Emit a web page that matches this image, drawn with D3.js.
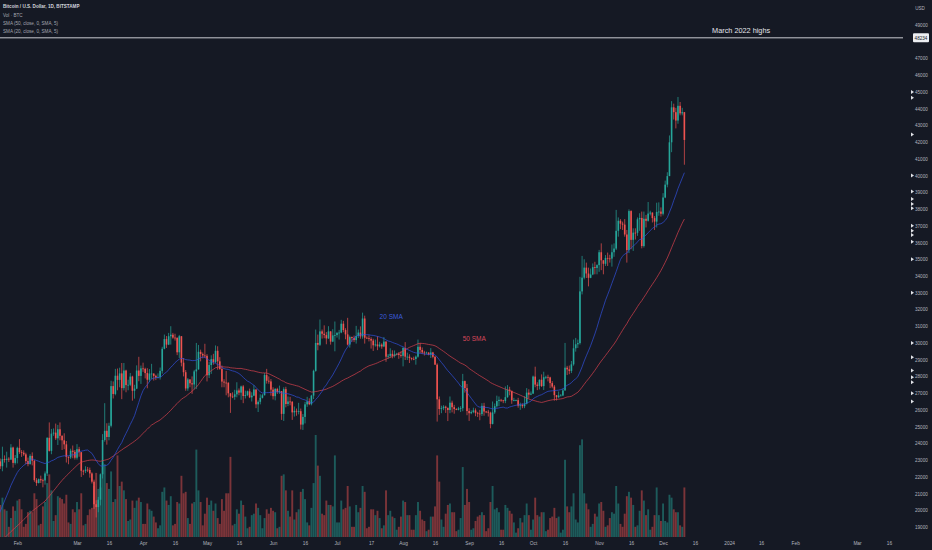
<!DOCTYPE html>
<html>
<head>
<meta charset="utf-8">
<script src="https://cdn.jsdelivr.net/npm/d3@7"></script>
<style>
    html, body { margin: 0; padding: 0; background: #151924; }
    svg { display: block; font-family: "Liberation Sans", Arial, sans-serif; }
</style>
</head>
<body>
<div class="chart"></div>
<script>

// daily closes before the first visible candle (Dec 4 2022 - Jan 22 2023), only used to warm up the SMAs
const preCloses = [
    17110, 16970, 17090, 16840, 17220, 17130, 17130, 17090, 17210, 17780,
    17810, 17360, 16630, 16780, 16740, 16440, 16900, 16820, 16830, 16780,
    16840, 16830, 16920, 16700, 16550, 16630, 16600, 16540,
    16620, 16680, 16670, 16850, 16830, 16950, 16940, 17120, 17180, 17440,
    17940, 18850, 19930, 20950, 20870, 21170, 21160, 20680, 21070, 22670,
    22780, 22710
];

// first visible candle
const firstDay = "2023-01-23";

const closes = [
    // jan
    22920, 22630, 23060, 23010, 23080, 23030, 23750, 22830, 23120,
    // feb
    23730, 23480, 23440, 23340, 22940, 22760, 23250, 22960, 21800, 21630,
    21860, 21790, 21780, 22200, 24330, 23550, 24580, 24640, 24300, 24840,
    24450, 24180, 23940, 23190, 23160, 23560, 23490, 23140,
    // mar
    23650, 23470, 22360, 22350, 22430, 22410, 22200, 21710, 20360, 20190,
    20630, 22150, 24200, 24750, 24380, 25050, 27420, 26950, 28040, 27790,
    28180, 27300, 28350, 27480, 27500, 27990, 27140, 27270, 28350, 28030,
    28480,
    // apr
    28450, 28200, 27800, 28170, 28170, 28030, 27920, 27950, 28330, 29650,
    30230, 29900, 30400, 30490, 30320, 30310, 29440, 30400, 28820, 28250,
    27280, 27820, 27590, 27520, 28300, 28420, 29470, 29340, 29250, 29230,
    // may
    28070, 28680, 29030, 28850, 29530, 28900, 28450, 27690, 27630, 27620,
    26990, 26800, 26780, 26930, 27160, 27030, 27400, 26830, 26890, 27110,
    26750, 26850, 27220, 26330, 26480, 26720, 26870, 28080, 27740, 27700,
    27210,
    // jun
    26820, 27250, 27070, 27120, 25760, 27240, 26350, 26500, 26480, 25850,
    25940, 25900, 25920, 25120, 25580, 26330, 26510, 26340, 26850, 28330,
    30000, 29890, 30690, 30550, 30470, 30270, 30690, 30080, 30450, 30470,
    // jul
    30590, 30620, 31150, 30770, 30510, 29900, 30350, 30290, 30170, 30410,
    30620, 30390, 31460, 30310, 30290, 30240, 30140, 29860, 29910, 29800,
    29900, 29790, 30080, 29180, 29230, 29350, 29220, 29320, 29350, 29280,
    29230,
    // aug
    29700, 29180, 29180, 29100, 29050, 29040, 29180, 29770, 29580, 29430,
    29410, 29420, 29300, 29430, 29170, 28700, 26630, 26050, 26100, 26190,
    26120, 25990, 26430, 26160, 26050, 26000, 26090, 26100, 27720, 27300,
    25930,
    // sep
    25800, 25870, 25970, 25820, 25780, 25750, 26240, 25900, 25890, 25830,
    25160, 25850, 26220, 26530, 26600, 26570, 26530, 26760, 27210, 27130,
    26570, 26580, 26580, 26250, 26300, 26220, 26370, 27030, 26910, 26970,
    // oct
    27990, 27510, 27430, 27800, 27420, 27950, 27970, 27940, 27600, 27390,
    26880, 26760, 26860, 26860, 27160, 28520, 28420, 28330, 28720, 29680,
    29920, 29990, 33080, 33900, 34500, 34150, 33890, 34090, 34530, 34480,
    34650,
    // nov
    35420, 34940, 34730, 35080, 35050, 35040, 35420, 35640, 36700, 37300,
    37130, 37070, 36480, 35550, 37880, 36160, 36590, 36580, 37390, 37470,
    35790, 37420, 37300, 37730, 37790, 37460, 37250, 37830, 37850, 37720,
    // dec
    38690, 39460, 39970, 41990, 44080, 43790, 43290, 44170, 43720, 43790,
    42130
];

const highs = [
    23160, 23090, 23800, 23280, 23500, 23170, 23950, 23800, 23300,
    23800, 24250, 23600, 23580, 23440, 23150, 23350, 23460, 23000, 21920,
    21900, 22070, 21890, 22320, 24360, 25250, 24860, 24890, 25180, 25100,
    25250, 24480, 24600, 24140, 23220, 23680, 23870, 23600,
    23950, 23790, 23480, 22420, 22630, 22590, 22550, 22270, 21830, 20600,
    20800, 22200, 24550, 26400, 25200, 25230, 27740, 27700, 28450, 28470,
    28520, 28800, 28800, 28400, 27800, 28200, 28040, 27500, 28660, 29170,
    28650,
    28820, 28520, 28490, 28440, 28750, 28180, 28100, 28180, 28530, 29770,
    30500, 30410, 30600, 31000, 30600, 30550, 30320, 30480, 30410, 29100,
    28380, 27900, 27820, 28000, 28390, 30000, 29880, 29600, 29430, 29950,
    29330, 28880, 29260, 29350, 29850, 29800, 29150, 28650, 27830, 28330,
    27650, 26990, 27050, 27200, 27650, 27280, 27450, 27480, 27150, 27150,
    27270, 27050, 27480, 27210, 26570, 26930, 26950, 28200, 28450, 28000,
    27840,
    27350, 27300, 27320, 27450, 27130, 27350, 27380, 26800, 26780, 26530,
    26200, 26080, 26420, 26080, 25750, 26480, 26780, 26690, 26900, 28400,
    30800, 30500, 31400, 30800, 31050, 30650, 31000, 30700, 30820, 31280,
    30660, 30780, 31380, 31320, 30880, 31500, 30440, 30380, 30440, 31020,
    30800, 30990, 31810, 31630, 30390, 30450, 30340, 30250, 30200, 30400,
    30070, 29980, 30350, 30100, 29340, 29680, 29560, 29550, 29410, 29450,
    29500,
    29750, 30050, 29420, 29320, 29130, 29180, 29250, 30200, 30000, 29730,
    29530, 29480, 29450, 29690, 29470, 29220, 28780, 26800, 26250, 26280,
    26250, 26140, 26800, 26550, 26300, 26100, 26180, 26220, 28150, 27750,
    27550,
    26100, 25970, 26130, 26090, 25880, 26000, 26400, 26420, 25940, 26000,
    25890, 26500, 26380, 26850, 26800, 26660, 26600, 27400, 27480, 27380,
    27160, 26720, 26620, 26720, 26430, 26380, 26820, 27300, 27230, 27100,
    28050, 28580, 27650, 27820, 28120, 28280, 28040, 28100, 27980, 27720,
    27480, 26850, 27100, 26950, 27280, 30000, 28630, 28650, 28920, 30200,
    30300, 30200, 33950, 35200, 35000, 34800, 34500, 34450, 34750, 34850,
    34700,
    35560, 35950, 34930, 35250, 35400, 35270, 35880, 35950, 37950, 37500,
    37400, 37250, 37400, 36750, 37980, 37930, 36850, 36850, 37500, 37750,
    37850, 37850, 37650, 38420, 37900, 37800, 37580, 38380, 38400, 38100,
    38950, 39700, 40200, 42400, 44450, 44300, 44050, 44700, 44400, 44050,
    43800
];

const lows = [
    22470, 22470, 22330, 22850, 22550, 22880, 23000, 22550, 22730,
    22800, 23370, 23190, 23250, 22760, 22630, 22730, 22680, 21700, 21460,
    21600, 21630, 21370, 21530, 22050, 23510, 23350, 24450, 24200, 23900,
    24180, 23600, 23650, 22850, 22750, 23070, 23110, 23030,
    23030, 23200, 21990, 22100, 22220, 22280, 21950, 21600, 20080, 19570,
    19880, 20290, 21900, 24100, 23920, 24180, 24950, 26680, 26870, 27170,
    27350, 26640, 27160, 27050, 27170, 27420, 26550, 26670, 27240, 27710,
    27550,
    28270, 27880, 27290, 27660, 27850, 27750, 27780, 27880, 27810, 28170,
    29620, 29700, 29870, 29900, 30250, 30140, 29270, 29100, 28600, 28000,
    27140, 27140, 27350, 26960, 27220, 27250, 28400, 28900, 29080, 29100,
    27700, 27900, 28150, 28700, 28800, 28400, 28400, 27350, 27350, 26870,
    26750, 25820, 26700, 26600, 26750, 26870, 26600, 26400, 26680, 26820,
    26700, 26500, 26820, 26100, 25870, 26330, 26680, 26870, 27570, 27560,
    26850,
    26620, 26570, 26950, 26960, 25400, 25340, 26150, 26220, 26270, 25400,
    25600, 25650, 25730, 24830, 24800, 25190, 26180, 26280, 26270, 26650,
    28280, 29560, 29820, 30260, 30280, 29920, 30240, 29900, 30050, 29500,
    30320, 30200, 30580, 30640, 30220, 29850, 29720, 30060, 30050, 29960,
    30290, 30250, 30250, 29960, 30250, 30090, 29660, 29520, 29780, 29570,
    29730, 29650, 29750, 28870, 29050, 29120, 29080, 29130, 29260, 29050,
    29120,
    28600, 28980, 28980, 28800, 28960, 28970, 28700, 29120, 29380, 29330,
    29250, 29360, 29260, 29100, 29080, 28700, 25300, 25700, 25800, 25980,
    25820, 25330, 25800, 25850, 25770, 25980, 25970, 25870, 25920, 27030,
    25680,
    25340, 25740, 25800, 25620, 25570, 25380, 25630, 25650, 25800, 25600,
    24900, 25130, 25760, 26130, 26220, 26480, 26400, 26400, 26720, 26870,
    26360, 26510, 26520, 26130, 26000, 26100, 26100, 26330, 26680, 26880,
    26960, 27350, 27180, 27220, 27370, 27190, 27840, 27700, 27300, 27290,
    26550, 26560, 26700, 26820, 26820, 27150, 28080, 28130, 28200, 28640,
    29480, 29700, 29900, 32900, 33800, 33880, 33380, 33870, 34050, 34100,
    34100,
    34250, 34350, 34100, 34600, 34600, 34800, 34560, 35150, 35550, 36350,
    36800, 36750, 36350, 34800, 35370, 35600, 35500, 36180, 36400, 36700,
    35650, 35700, 36900, 37250, 37620, 37200, 36750, 36900, 37600, 37550,
    37620, 38650, 39300, 39970, 41400, 43350, 42820, 43100, 43600, 43600,
    40650
];

// volume in BTC
const volumes = [
    2600, 2200, 2700, 1900, 1800, 700, 1300, 2100, 1800,
    2500, 2600, 1900, 700, 900, 1700, 1800, 1700, 3000, 2600,
    800, 900, 2100, 2400, 3700, 4300, 3200, 1100, 1500, 2800,
    2700, 2600, 2300, 2900, 1000, 900, 1900, 1700,
    2400, 1900, 3000, 800, 900, 1500, 1900, 2000, 3500, 4400,
    3300, 3400, 5100, 5000, 3700, 3300, 4500, 2400, 2600, 5600,
    3500, 3800, 3200, 2600, 1100, 1200, 2500, 2000, 2500, 2700,
    2400,
    900, 900, 2300, 1900, 1800, 1400, 1000, 600, 800, 3100,
    3400, 2500, 2200, 2800, 800, 900, 2400, 2300, 4200, 3000,
    3100, 1300, 900, 2300, 2400, 6000, 3200, 2400, 800, 1600,
    2700, 2200, 2500, 1800, 2300, 1300, 900, 2600, 1800, 3000,
    3000, 5500, 800, 900, 1900, 1600, 2500, 2200, 1400, 600,
    700, 1500, 1600, 2300, 2000, 1500, 600, 1300, 1900, 1600,
    2000,
    1800, 1700, 600, 700, 4200, 4300, 3200, 1800, 1400, 3200,
    1200, 1700, 1900, 3100, 3300, 2600, 1000, 800, 2000, 3700,
    7000, 4900, 4200, 1600, 1500, 2500, 2200, 2200, 2100, 5600,
    1000, 1000, 2500, 1900, 2000, 3500, 2100, 700, 700, 2200,
    1700, 2000, 3500, 3100, 600, 700, 1900, 1900, 1500, 1800,
    1300, 600, 800, 3200, 1500, 1800, 1400, 1300, 500, 700,
    1400,
    2500, 2400, 1500, 1500, 500, 500, 1500, 2400, 1800, 1200,
    1100, 400, 500, 1400, 1400, 2100, 5600, 3800, 1200, 700,
    1600, 2200, 2300, 1700, 1700, 400, 500, 1300, 4800, 2200,
    3300,
    2400, 500, 600, 1100, 1400, 1500, 1700, 1500, 400, 600,
    2400, 3500, 1900, 2000, 1700, 500, 500, 2200, 2000, 1800,
    1600, 1000, 300, 600, 1300, 1000, 1500, 2300, 1500, 500,
    1200, 2700, 1500, 1400, 1700, 1700, 400, 500, 1300, 1400,
    2000, 1300, 1400, 300, 500, 5300, 2100, 1700, 2100, 3000,
    1200, 1000, 6300, 6700, 3000, 2300, 1900, 700, 900, 1600,
    1400,
    2300, 2400, 1800, 700, 800, 1300, 1700, 1600, 3500, 2300,
    900, 700, 1600, 2800, 3100, 2700, 2200, 700, 800, 1800,
    3200, 2500, 1500, 1900, 500, 700, 1500, 3400, 1500, 1100,
    2300, 1100, 1000, 2900, 2700, 1900, 1700, 1700, 800, 700,
    3400
];

// horizontal level drawn on the chart
const levelPrice = 48234;
const levelLabel = "March 2022 highs";

// text labels placed next to the moving averages
const smaNotes = [
    { text: "20 SMA", date: "2023-07-21", price: 31450, color: "#3b5bdb" },
    { text: "50 SMA", date: "2023-08-29", price: 30100, color: "#d8475a" }
];

// little alert arrows on the price scale
const alertPrices = [45000, 44650, 42450, 40000, 39050, 38600, 38300, 38050, 37000,
    36700, 36450, 36050, 35000, 33000, 30000, 29150, 28350, 27950, 27650, 27000, 26500];

const legendLines = [
    "Bitcoin / U.S. Dollar, 1D, BITSTAMP",
    "Vol · BTC",
    "SMA (50, close, 0, SMA, 5)",
    "SMA (20, close, 0, SMA, 5)"
];

const priceTicks = d3.range(19000, 50000, 1000).filter(v => v !== 48000);

const timeTickDates = ["2023-02-01", "2023-03-01", "2023-03-16", "2023-04-01", "2023-04-16",
    "2023-05-01", "2023-05-16", "2023-06-01", "2023-06-16", "2023-07-01", "2023-07-17",
    "2023-08-01", "2023-08-16", "2023-09-01", "2023-09-16", "2023-10-01", "2023-10-16",
    "2023-11-01", "2023-11-16", "2023-12-01", "2023-12-16", "2024-01-01", "2024-01-16",
    "2024-02-01", "2024-03-01", "2024-03-16"];
const timeTickLabels = ["Feb", "Mar", "16", "Apr", "16", "May", "16", "Jun", "16", "Jul", "17",
    "Aug", "16", "Sep", "16", "Oct", "16", "Nov", "16", "Dec", "16", "2024", "16",
    "Feb", "Mar", "16"];


if (highs.length !== closes.length || lows.length !== closes.length || volumes.length !== closes.length)
    throw new Error(`length mismatch ${closes.length} ${highs.length} ${lows.length} ${volumes.length}`);

const parse = d3.utcParse("%Y-%m-%d");
const DAY = 86400000;
const start = parse(firstDay).getTime();

const candles = closes.map((c, i) => {
    const open = i === 0 ? preCloses[preCloses.length - 1] : closes[i - 1];
    return {
        date: new Date(start + i * DAY),
        open: open,
        close: c,
        high: Math.max(highs[i], open, c),
        low: Math.min(lows[i], open, c),
        volume: volumes[i]
    };
});

//SIMPLE MOVING AVERAGES
const allCloses = preCloses.concat(closes);
function sma(n) {
    return candles.map((d, i) => {
        const end = preCloses.length + i;
        return { date: d.date, value: d3.mean(allCloses.slice(end - n + 1, end + 1)) };
    });
}
const sma20 = sma(20);
const sma50 = sma(50);

const svgWidth = 932, svgHeight = 550;
const plotRight = 903, plotBottom = 537;

const upColor = "#26a69a", downColor = "#ef5350";

const svg = d3.select('.chart').append('svg')
    .attr('width', svgWidth)
    .attr('height', svgHeight)
    .style('background-color', '#151924')

svg.append("defs").append("clipPath").attr("id", "plot-clip")
    .append("rect").attr("x", 0).attr("y", 0).attr("width", plotRight).attr("height", plotBottom)

//SCALES
const x = d3.scaleUtc()
    .domain([parse("2023-03-01"), parse("2024-03-01")])
    .range([77, 857])

const y = d3.scaleLinear()
    .domain([19000, 49000])
    .range([527, 25])

const yVol = d3.scaleLinear()
    .domain([0, 7000])
    .range([plotBottom, 435])

const plot = svg.append("g").attr("clip-path", "url(#plot-clip)")

//VOLUME
plot.append("g").selectAll("rect")
    .data(candles)
    .join("rect")
    .attr("x", d => x(d.date) - 0.95)
    .attr("width", 1.9)
    .attr("y", d => yVol(d.volume))
    .attr("height", d => plotBottom - yVol(d.volume))
    .attr("fill", d => d.close >= d.open ? upColor : downColor)
    .attr("fill-opacity", 0.47)

//LEVEL LINE
plot.append("line")
    .attr("x1", 0).attr("x2", plotRight)
    .attr("y1", y(levelPrice)).attr("y2", y(levelPrice))
    .attr("stroke", "#c9cbd1")
    .attr("stroke-width", 1)

svg.append("text")
    .attr("x", x(parse("2023-12-24")))
    .attr("y", y(levelPrice) - 4.5)
    .attr("fill", "#e3e5ea")
    .attr("font-size", 7.3)
    .text(levelLabel)

//CANDLES
const candleGroup = plot.append("g")
candleGroup.selectAll("line")
    .data(candles)
    .join("line")
    .attr("x1", d => x(d.date)).attr("x2", d => x(d.date))
    .attr("y1", d => y(d.high)).attr("y2", d => y(d.low))
    .attr("stroke", d => d.close >= d.open ? upColor : downColor)
    .attr("stroke-width", 0.7)

candleGroup.selectAll("rect")
    .data(candles)
    .join("rect")
    .attr("x", d => x(d.date) - 0.8)
    .attr("width", 1.6)
    .attr("y", d => y(Math.max(d.open, d.close)))
    .attr("height", d => Math.max(0.8, Math.abs(y(d.open) - y(d.close))))
    .attr("fill", d => d.close >= d.open ? upColor : downColor)

//SMA LINES
const line = d3.line()
    .x(d => x(d.date))
    .y(d => y(d.value))

plot.append("path")
    .datum(sma50)
    .attr("fill", "none")
    .attr("stroke", "#d9404d")
    .attr("stroke-width", 0.7)
    .attr("d", line)

plot.append("path")
    .datum(sma20)
    .attr("fill", "none")
    .attr("stroke", "#3050dc")
    .attr("stroke-width", 0.7)
    .attr("d", line)

svg.append("g").selectAll("text")
    .data(smaNotes)
    .join("text")
    .attr("x", d => x(parse(d.date)))
    .attr("y", d => y(d.price))
    .attr("fill", d => d.color)
    .attr("font-size", 6.5)
    .text(d => d.text)

//LEGEND
svg.append("g").selectAll("text")
    .data(legendLines)
    .join("text")
    .attr("x", 3)
    .attr("y", (d, i) => 8.4 + i * 8.2)
    .attr("fill", (d, i) => i === 0 ? "#d1d4dc" : "#a3a6af")
    .attr("font-weight", (d, i) => i === 0 ? 600 : 400)
    .attr("font-size", 4.6)
    .text(d => d)

//PRICE AXIS
const y_axis = d3.axisRight(y)
    .tickValues(priceTicks)
    .tickFormat(d3.format("d"))
    .tickSize(0)
    .tickPadding(0)

const yAxisG = svg.append("g")
    .attr("transform", `translate(915, 0)`)
    .call(y_axis)
yAxisG.select(".domain").remove()
yAxisG.selectAll("text").attr("fill", "#b2b5be").attr("font-size", 4.6)

svg.append("text")
    .attr("x", 920).attr("y", 10)
    .attr("text-anchor", "middle")
    .attr("fill", "#b2b5be")
    .attr("font-size", 4.6)
    .text("USD")

// alert arrows
svg.append("g").selectAll("path")
    .data(alertPrices)
    .join("path")
    .attr("d", d => `M911,${y(d) - 2}L914,${y(d)}L911,${y(d) + 2}Z`)
    .attr("fill", "#e0e2e7")

// level price tag
const tag = svg.append("g").attr("transform", `translate(913, ${y(levelPrice)})`)
tag.append("rect")
    .attr("x", 0).attr("y", -4.5)
    .attr("width", 16).attr("height", 9)
    .attr("rx", 1)
    .attr("fill", "#eceef2")
tag.append("text")
    .attr("x", 8).attr("y", 1.7)
    .attr("text-anchor", "middle")
    .attr("fill", "#131722")
    .attr("font-size", 4.6)
    .text(d3.format("d")(levelPrice))

//TIME AXIS
const x_axis = d3.axisBottom(x)
    .tickValues(timeTickDates.map(parse))
    .tickFormat((d, i) => timeTickLabels[i])
    .tickSize(0)
    .tickPadding(0)

const xAxisG = svg.append("g")
    .attr("transform", `translate(0, ${plotBottom + 5})`)
    .call(x_axis)
xAxisG.select(".domain").remove()
xAxisG.selectAll("text").attr("fill", "#b2b5be").attr("font-size", 4.8)

</script>
</body>
</html>
